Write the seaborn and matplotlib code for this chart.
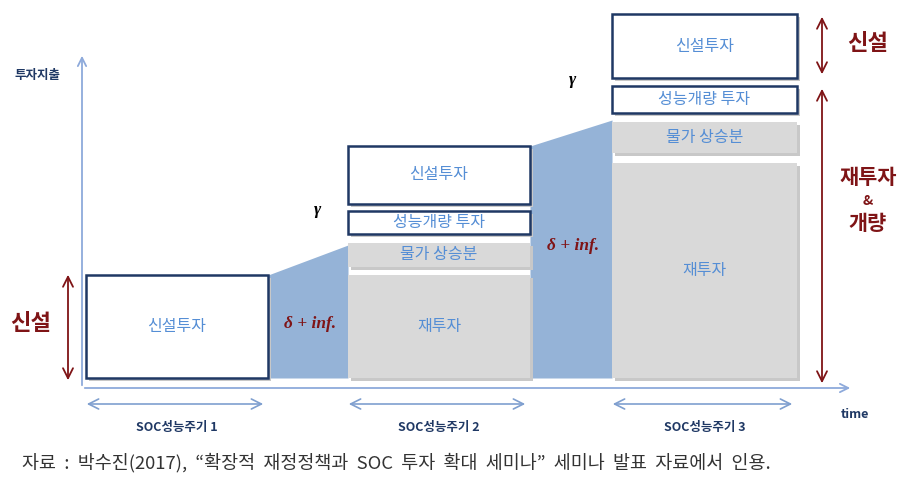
import matplotlib
matplotlib.use("Agg")
import matplotlib.pyplot as plt
import seaborn as sns

# ---------------- data ----------------
periods = ["SOC성능주기 1", "SOC성능주기 2", "SOC성능주기 3"]
period_left = [86, 348, 612]
period_right = [268, 530, 797]
segments = ["재투자", "물가 상승분", "성능개량 투자", "신설투자"]
# (bottom, top) per segment for each period; None = absent
seg_p1 = [None, None, None, (10, 113)]
seg_p2 = [(10, 113), (121, 145), (154, 177), (184, 242)]
seg_p3 = [(10, 225), (235, 266), (275, 302), (310, 374)]
seg_styles = ["gray", "gray", "box", "box"]
gap_labels = ["δ + inf.", "δ + inf."]
gamma_label = "γ"
caption = "자료  :  박수진(2017),  “확장적  재정정책과  SOC  투자  확대  세미나”  세미나  발표  자료에서  인용."

# ---------------- style ----------------
sns.set_theme(style="white")
plt.rcParams["font.family"] = ["Noto Sans CJK KR", "DejaVu Sans"]

NAVY = "#1f3864"
LBLUE_TXT = "#558ed5"
TRAP = "#95b3d7"
GRAY = "#d9d9d9"
RED = "#7f1416"
AXIS = "#8eaadb"

fig = plt.figure(figsize=(9.03, 4.84), dpi=100)
ax = fig.add_axes([0, 0, 1, 1])
ax.set_xlim(0, 903)
ax.set_ylim(-96, 388)
ax.axis("off")

all_segs = [seg_p1, seg_p2, seg_p3]

# trapezoids (growth between periods)
for i in range(2):
    top_here = max(s[1] for s in all_segs[i] if s is not None)
    top_next = all_segs[i + 1][1][1] - (2 if i == 0 else -2)
    xs = [period_right[i], period_left[i + 1]]
    ax.fill_between(xs, [10, 10], [top_here, top_next], color=TRAP, lw=0, zorder=1)
    ax.text(sum(xs) / 2 + 2, (10 + top_here) / 2 + (3 if i == 0 else 16), gap_labels[i],
            family="Liberation Serif", style="italic", weight="bold", fontsize=12.5,
            color=RED, ha="center", va="center", zorder=5)

# stacked boxes
for p, segs in enumerate(all_segs):
    left, right = period_left[p], period_right[p]
    for name, seg, st in zip(segments, segs, seg_styles):
        if seg is None:
            continue
        b, t = seg
        # subtle shadow
        ax.bar(left + 3, t - b, width=right - left, bottom=b - 3, align="edge",
               color="#c8c8c8", lw=0, zorder=2)
        if st == "gray":
            ax.bar(left, t - b, width=right - left, bottom=b, align="edge",
                   color=GRAY, lw=0, zorder=3)
        else:
            ax.bar(left, t - b, width=right - left, bottom=b, align="edge",
                   color="white", edgecolor=NAVY, lw=1.8, zorder=3)
        ax.text((left + right) / 2, (b + t) / 2, name, color=LBLUE_TXT,
                fontsize=11.5, ha="center", va="center", zorder=4, weight="medium")

# gamma labels
ax.text(318, 388 - 210, gamma_label, family="Liberation Serif", style="italic",
        weight="bold", fontsize=12.5, color="black", ha="center", va="center")
ax.text(573, 388 - 80, gamma_label, family="Liberation Serif", style="italic",
        weight="bold", fontsize=12.5, color="black", ha="center", va="center")

# axes arrows
ax.annotate("", xy=(82, 388 - 53), xytext=(82, 0),
            arrowprops=dict(arrowstyle="->,head_length=0.5,head_width=0.25", color=AXIS, lw=1.3))
ax.annotate("", xy=(853, 0), xytext=(82, 0),
            arrowprops=dict(arrowstyle="->,head_length=0.5,head_width=0.25", color=AXIS, lw=1.3))
ax.text(38, 388 - 76, "투자지출", color=NAVY, fontsize=9, weight="bold", ha="center", va="center")
ax.text(855, 388 - 415, "time", color=NAVY, fontsize=9, weight="bold", ha="center", va="center")

# period arrows and labels
for p, name in enumerate(periods):
    l, r = period_left[p] - 2, period_right[p] - 2
    ax.annotate("", xy=(l, 388 - 404), xytext=(r, 388 - 404),
                arrowprops=dict(arrowstyle="<->,head_length=0.6,head_width=0.3", color="#7f9fcf", lw=1.2))
    ax.text((period_left[p] + period_right[p]) / 2, 388 - 427, name, color=NAVY,
            fontsize=9, weight="bold", ha="center", va="center")

# red double arrows
def red_arrow(x, y0, y1):
    ax.annotate("", xy=(x, 388 - y0), xytext=(x, 388 - y1),
                arrowprops=dict(arrowstyle="<->,head_length=0.6,head_width=0.3", color=RED, lw=1.3))

red_arrow(68, 272, 383)
red_arrow(822, 14, 77)
red_arrow(822, 86, 386)
ax.text(31, 388 - 323, "신설", color=RED, fontsize=16, weight="bold", ha="center", va="center")
ax.text(868, 388 - 43, "신설", color=RED, fontsize=16, weight="bold", ha="center", va="center")
ax.text(868, 388 - 177, "재투자", color=RED, fontsize=15, weight="bold", ha="center", va="center")
ax.text(868, 388 - 201, "&", color=RED, fontsize=10, weight="bold", ha="center", va="center")
ax.text(868, 388 - 224, "개량", color=RED, fontsize=15, weight="bold", ha="center", va="center")

# source caption
ax.text(22, 388 - 463, caption, color="#333333", fontsize=13.3, ha="left", va="center")

fig.savefig("out.png", dpi=100)
